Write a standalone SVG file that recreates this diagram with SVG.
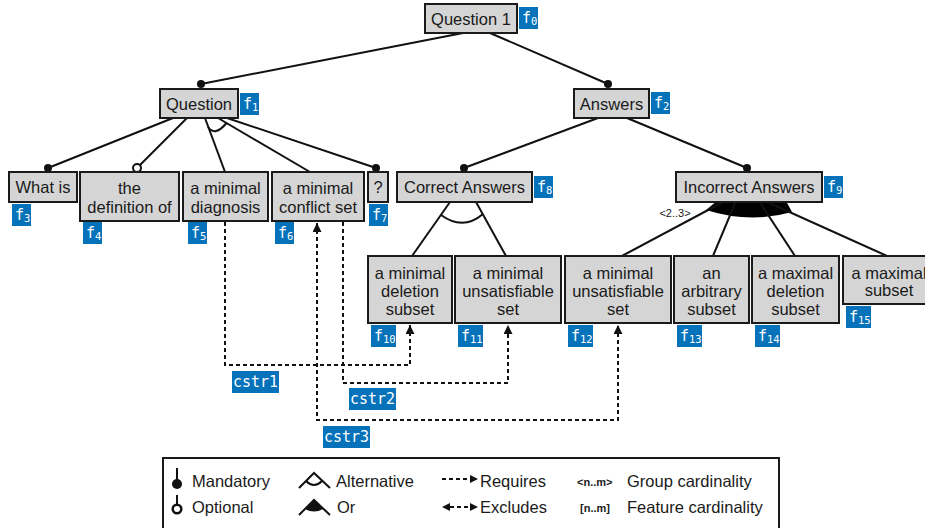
<svg xmlns="http://www.w3.org/2000/svg" width="925" height="528" viewBox="0 0 925 528">
<style>
.box{fill:#d5d5d5;stroke:#1a1a1a;stroke-width:2}
.t{font-family:"Liberation Sans",Arial,sans-serif;font-size:16.5px;fill:#1a1a1a;text-anchor:middle}
.lt{font-family:"Liberation Sans",Arial,sans-serif;font-size:16.5px;fill:#1a1a1a}
.b{fill:#0572BA}
.bt{font-family:"DejaVu Sans Mono",monospace;font-size:15px;fill:#fff}
.bs{font-size:10.5px}
.e{stroke:#111;stroke-width:2;fill:none}
.d{stroke:#111;stroke-width:2;fill:none;stroke-dasharray:4 3}
.dot{fill:#111}
.odot{fill:#fff;stroke:#111;stroke-width:2}
</style>
<defs>
<marker id="arr" viewBox="0 0 10 10" refX="10" refY="5" markerWidth="10" markerHeight="9" orient="auto-start-reverse" markerUnits="userSpaceOnUse"><path d="M0,0 L10,5 L0,10 Z" fill="#111"/></marker>
</defs>

<g id="connectors">
<path class="e" d="M463,33 L201,84"/>
<path class="e" d="M490,33 L608,84"/>
<path class="e" d="M173,118 L48,168"/>
<path class="e" d="M187,118 L137,168"/>
<path class="e" d="M205,118 L225,172"/>
<path class="e" d="M218,118 L310,172"/>
<path class="e" d="M227,118 L376,168"/>
<path class="e" d="M208,127 Q215,137 226.5,123"/>
<path class="e" d="M598,118 L464,168"/>
<path class="e" d="M627,118 L747,168"/>
<path class="e" d="M450,202 L412,256"/>
<path class="e" d="M476,202 L506,256"/>
<path class="e" d="M441,215 Q463,231 483,214"/>
<path d="M717,201 L706,210 Q750,224 792,212 L786,201 Z" fill="#000"/>
<path class="e" d="M725,201 L622,256"/>
<path class="e" d="M736,201 L713,256"/>
<path class="e" d="M759,201 L795,256"/>
<path class="e" d="M765,201 L887,256"/>
<circle class="dot" cx="201" cy="84" r="4"/>
<circle class="dot" cx="608" cy="84" r="4"/>
<circle class="dot" cx="48" cy="168" r="4"/>
<circle class="odot" cx="137" cy="168" r="4"/>
<circle class="dot" cx="376" cy="168" r="4"/>
<circle class="dot" cx="464" cy="168" r="4"/>
<circle class="dot" cx="747" cy="168" r="4"/>
<path class="d" d="M225,222 V365 H410 V325" marker-end="url(#arr)"/>
<path class="d" d="M343,222 V383 H508 V325" marker-end="url(#arr)"/>
<path class="d" d="M317,223 V420 H618 V325" marker-start="url(#arr)" marker-end="url(#arr)"/>
<text x="675" y="217" style="font-family:'Liberation Sans',Arial,sans-serif;font-size:11px;fill:#1a1a1a;text-anchor:middle">&lt;2..3&gt;</text>
</g>

<g id="f0"><rect class="box" x="425" y="4" width="92" height="29"/><text class="t" x="471" y="24.5">Question 1</text><rect class="b" x="519" y="7" width="19" height="22"/><text class="bt" x="522" y="23">f<tspan class="bs" dy="2">0</tspan></text></g>
<g id="f1"><rect class="box" x="160" y="89" width="78" height="29"/><text class="t" x="199" y="109.5">Question</text><rect class="b" x="240" y="93" width="19" height="22"/><text class="bt" x="243" y="109">f<tspan class="bs" dy="2">1</tspan></text></g>
<g id="f2"><rect class="box" x="574" y="89" width="75" height="29"/><text class="t" x="611.5" y="109.5">Answers</text><rect class="b" x="651" y="92" width="19" height="22"/><text class="bt" x="654" y="108">f<tspan class="bs" dy="2">2</tspan></text></g>
<g id="f3"><rect class="box" x="9" y="172" width="68" height="30"/><text class="t" x="43" y="193">What is</text><rect class="b" x="12" y="204" width="19" height="22"/><text class="bt" x="15" y="220">f<tspan class="bs" dy="2">3</tspan></text></g>
<g id="f4"><rect class="box" x="80" y="172" width="99" height="49"/><text class="t" x="129.5" y="194">the</text><text class="t" x="129.5" y="213">definition of</text><rect class="b" x="83" y="222" width="19" height="22"/><text class="bt" x="86" y="238">f<tspan class="bs" dy="2">4</tspan></text></g>
<g id="f5"><rect class="box" x="183" y="172" width="85" height="49"/><text class="t" x="225.5" y="194">a minimal</text><text class="t" x="225.5" y="213">diagnosis</text><rect class="b" x="188" y="222" width="19" height="22"/><text class="bt" x="191" y="238">f<tspan class="bs" dy="2">5</tspan></text></g>
<g id="f6"><rect class="box" x="272" y="172" width="92" height="49"/><text class="t" x="318" y="194">a minimal</text><text class="t" x="318" y="213">conflict set</text><rect class="b" x="275" y="222" width="19" height="22"/><text class="bt" x="278" y="238">f<tspan class="bs" dy="2">6</tspan></text></g>
<g id="f7"><rect class="box" x="368" y="172" width="20" height="30"/><text class="t" x="378" y="193">?</text><rect class="b" x="369" y="204" width="19" height="22"/><text class="bt" x="372" y="220">f<tspan class="bs" dy="2">7</tspan></text></g>
<g id="f8"><rect class="box" x="397" y="172" width="135" height="30"/><text class="t" x="464.5" y="193">Correct Answers</text><rect class="b" x="534" y="176" width="19" height="22"/><text class="bt" x="537" y="192">f<tspan class="bs" dy="2">8</tspan></text></g>
<g id="f9"><rect class="box" x="676" y="172" width="146" height="30"/><text class="t" x="749" y="193">Incorrect Answers</text><rect class="b" x="824" y="176" width="19" height="22"/><text class="bt" x="827" y="192">f<tspan class="bs" dy="2">9</tspan></text></g>
<g id="f10"><rect class="box" x="368" y="256" width="84" height="67"/><text class="t" x="410" y="279">a minimal</text><text class="t" x="410" y="297">deletion</text><text class="t" x="410" y="315">subset</text><rect class="b" x="371" y="325" width="25" height="22"/><text class="bt" x="374" y="341">f<tspan class="bs" dy="2">10</tspan></text></g>
<g id="f11"><rect class="box" x="455" y="256" width="106" height="67"/><text class="t" x="508" y="279">a minimal</text><text class="t" x="508" y="297">unsatisfiable</text><text class="t" x="508" y="315">set</text><rect class="b" x="458" y="325" width="25" height="22"/><text class="bt" x="461" y="341">f<tspan class="bs" dy="2">11</tspan></text></g>
<g id="f12"><rect class="box" x="565" y="256" width="106" height="67"/><text class="t" x="618" y="279">a minimal</text><text class="t" x="618" y="297">unsatisfiable</text><text class="t" x="618" y="315">set</text><rect class="b" x="568" y="325" width="25" height="22"/><text class="bt" x="571" y="341">f<tspan class="bs" dy="2">12</tspan></text></g>
<g id="f13"><rect class="box" x="674" y="256" width="75" height="67"/><text class="t" x="711.5" y="279">an</text><text class="t" x="711.5" y="297">arbitrary</text><text class="t" x="711.5" y="315">subset</text><rect class="b" x="677" y="325" width="25" height="22"/><text class="bt" x="680" y="341">f<tspan class="bs" dy="2">13</tspan></text></g>
<g id="f14"><rect class="box" x="752" y="256" width="87" height="67"/><text class="t" x="795.5" y="279">a maximal</text><text class="t" x="795.5" y="297">deletion</text><text class="t" x="795.5" y="315">subset</text><rect class="b" x="755" y="325" width="25" height="22"/><text class="bt" x="758" y="341">f<tspan class="bs" dy="2">14</tspan></text></g>
<g id="f15"><rect class="box" x="843" y="256" width="92" height="48"/><text class="t" x="889" y="279">a maximal</text><text class="t" x="889" y="296">subset</text><rect class="b" x="846" y="306" width="25" height="22"/><text class="bt" x="849" y="322">f<tspan class="bs" dy="2">15</tspan></text></g>

<g id="cstr1"><rect class="b" x="232" y="371" width="47" height="22"/><text class="bt" x="255.5" y="387" text-anchor="middle">cstr1</text></g>
<g id="cstr2"><rect class="b" x="349" y="388" width="47" height="22"/><text class="bt" x="372.5" y="404" text-anchor="middle">cstr2</text></g>
<g id="cstr3"><rect class="b" x="323" y="426" width="47" height="22"/><text class="bt" x="346.5" y="442" text-anchor="middle">cstr3</text></g>

<g id="legend">
<rect x="163" y="458" width="616" height="80" fill="#fff" stroke="#1a1a1a" stroke-width="2"/>
<line x1="177" y1="468" x2="177" y2="482" stroke="#111" stroke-width="2"/>
<circle cx="177" cy="484" r="5" fill="#111"/>
<text class="lt" x="192" y="487">Mandatory</text>
<line x1="177" y1="495" x2="177" y2="505" stroke="#111" stroke-width="2"/>
<circle cx="177" cy="509" r="4.3" fill="#fff" stroke="#111" stroke-width="2.5"/>
<text class="lt" x="192" y="513">Optional</text>
<path class="e" d="M299,488 L314,473 L330,488"/>
<path class="e" d="M306,481 Q314,489 322,481"/>
<text class="lt" x="336" y="487">Alternative</text>
<path class="e" d="M299,515 L314,500 L330,515"/>
<path d="M314,500 L305,509 Q314,514 323,509 Z" fill="#111"/>
<text class="lt" x="337" y="513">Or</text>
<path class="d" d="M442,479 H470"/>
<path d="M470,475 L478,479 L470,483 Z" fill="#111"/>
<text class="lt" x="480" y="487">Requires</text>
<path class="d" d="M450,507 H470"/>
<path d="M450,503 L442,507 L450,511 Z" fill="#111"/>
<path d="M470,503 L478,507 L470,511 Z" fill="#111"/>
<text class="lt" x="480" y="513">Excludes</text>
<text x="577" y="486" style="font-family:'Liberation Sans',Arial,sans-serif;font-size:11px;font-weight:bold;fill:#1a1a1a">&lt;n..m&gt;</text>
<text class="lt" x="627" y="487">Group cardinality</text>
<text x="580" y="512" style="font-family:'Liberation Sans',Arial,sans-serif;font-size:11px;font-weight:bold;fill:#1a1a1a">[n..m]</text>
<text class="lt" x="627" y="513">Feature cardinality</text>
</g>
</svg>
